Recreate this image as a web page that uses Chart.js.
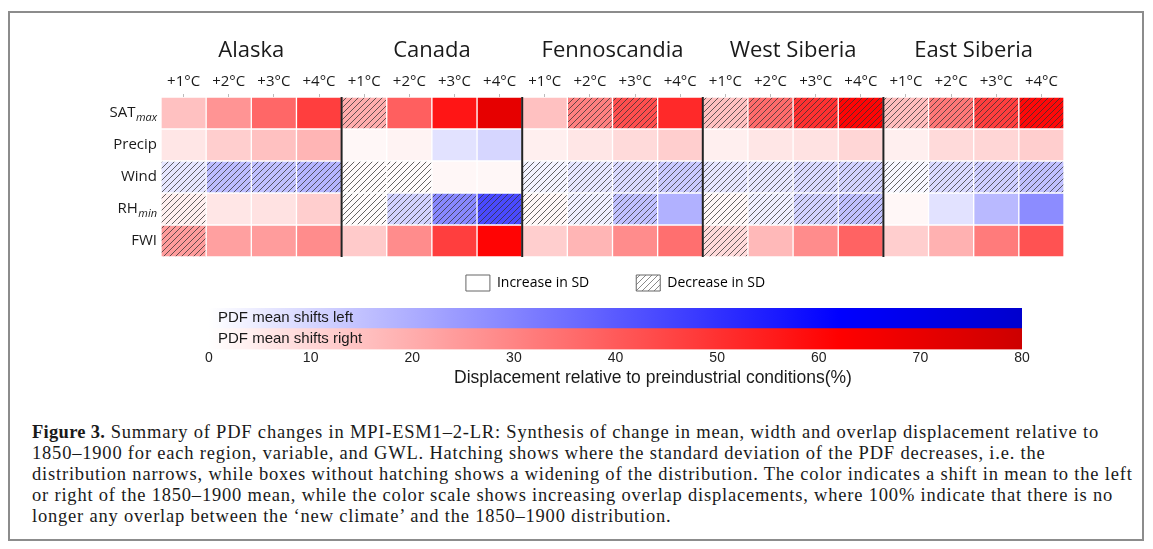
<!DOCTYPE html>
<html>
<head>
<meta charset="utf-8">
<script src="https://cdn.jsdelivr.net/npm/chart.js@4.4.1/dist/chart.umd.min.js"></script>
<style>
  html, body { margin: 0; padding: 0; background: #fff; }
  body { width: 1153px; height: 549px; position: relative; overflow: hidden; }
  #frame { position: absolute; left: 8px; top: 11px; width: 1136px; height: 530px; border: 2px solid #8c8c8c; box-sizing: border-box; }
  #heat { position: absolute; left: 0; top: 0; }
  #cbar { position: absolute; left: 153px; top: 228px; }
  #caption { position: absolute; left: 32px; top: 422px; font-family: 'Liberation Serif', serif; font-size: 18.5px;
             line-height: 21px; color: #1a1a1a; white-space: nowrap; letter-spacing: 0.8px; }
  #caption b { letter-spacing: 0.3px; }
</style>
</head>
<body>
<div id="frame"></div>
<canvas id="heat" width="1153" height="270"></canvas>
<canvas id="cbar" width="1000" height="162"></canvas>
<div id="caption">
  <div><b>Figure 3.</b> Summary of PDF changes in MPI-ESM1–2-LR: Synthesis of change in mean, width and overlap displacement relative to</div>
  <div>1850–1900 for each region, variable, and GWL. Hatching shows where the standard deviation of the PDF decreases, i.e. the</div>
  <div>distribution narrows, while boxes without hatching shows a widening of the distribution. The color indicates a shift in mean to the left</div>
  <div>or right of the 1850–1900 mean, while the color scale shows increasing overlap displacements, where 100% indicate that there is no</div>
  <div>longer any overlap between the ‘new climate’ and the 1850–1900 distribution.</div>
</div>
<script>
// regions, warming levels and variables
const regions = ['Alaska', 'Canada', 'Fennoscandia', 'West Siberia', 'East Siberia'];
const gwls = ['+1°C', '+2°C', '+3°C', '+4°C'];
const variables = ['SAT', 'Precip', 'Wind', 'RH', 'FWI'];
const varSubs = ['max', '', '', 'min', ''];

// overlap displacement in %, + = mean shifts right (red), - = shifts left (blue)
// each row: Alaska +1..+4, Canada, Fennoscandia, West Siberia, East Siberia
const satMax = [15, 26, 37, 47,  20, 39, 57, 71,  15, 31, 43, 52,  15, 36, 50, 61,  16, 33, 47, 60];
const precip = [6, 12, 15, 18,  2, 3, -7, -10,  4, 6, 9, 12,  4, 6, 7, 10,  4, 9, 10, 12];
const wind   = [-6, -16, -15, -18,  1, 1, 2, 2,  -3, -6, -9, -13,  -6, -6, -9, -11,  -2, -9, -12, -15];
const rhMin  = [4, 6, 7, 12,  1, -11, -29, -44,  2, -4, -15, -19,  2, -4, -11, -15,  2, -7, -17, -28];
const fwi    = [24, 23, 24, 28,  13, 28, 47, 61,  12, 18, 28, 35,  9, 17, 28, 38,  12, 19, 32, 42];

// 1 = standard deviation decreases (hatched cell)
const satHatch    = [0, 0, 0, 0,  1, 0, 0, 0,  0, 1, 1, 0,  1, 1, 1, 1,  1, 1, 1, 1];
const precipHatch = [0, 0, 0, 0,  0, 0, 0, 0,  0, 0, 0, 0,  0, 0, 0, 0,  0, 0, 0, 0];
const windHatch   = [1, 1, 1, 1,  1, 1, 0, 0,  1, 1, 1, 1,  1, 1, 1, 1,  1, 1, 1, 1];
const rhHatch     = [1, 0, 0, 0,  1, 1, 1, 1,  1, 1, 1, 0,  1, 1, 1, 1,  0, 0, 0, 0];
const fwiHatch    = [1, 0, 0, 0,  0, 0, 0, 0,  0, 0, 0, 0,  1, 0, 0, 0,  0, 0, 0, 0];

// colour bar
const cbarLabels = ['PDF mean shifts left', 'PDF mean shifts right'];
const cbarMax = 80;
const cbarStep = 10;
const sdLegend = ['Increase in SD', 'Decrease in SD'];

const rows = [satMax, precip, wind, rhMin, fwi];
const hatches = [satHatch, precipHatch, windHatch, rhHatch, fwiHatch];
const columns = regions.flatMap(() => gwls);

// white -> red / blue -> darker at the end of the scale
function cmap(v) {
  const a = Math.min(Math.abs(v), cbarMax);
  let hi, lo;
  if (a <= 62) {
    hi = 255;
    lo = Math.round(255 * (1 - a / 62));
  } else {
    hi = Math.round(255 - 50 * (a - 62) / 18);
    lo = 0;
  }
  return v >= 0 ? `rgb(${hi},${lo},${lo})` : `rgb(${lo},${lo},${hi})`;
}

function hatch(base, line) {
  const c = document.createElement('canvas');
  c.width = 6; c.height = 6;
  const g = c.getContext('2d');
  g.fillStyle = base;
  g.fillRect(0, 0, 6, 6);
  g.strokeStyle = line;
  g.lineWidth = 1;
  g.beginPath();
  g.moveTo(0, 6); g.lineTo(6, 0);
  g.moveTo(-1, 1); g.lineTo(1, -1);
  g.moveTo(5, 7); g.lineTo(7, 5);
  g.stroke();
  return g.createPattern(c, 'repeat');
}

Chart.defaults.font.family = '"Open Sans", sans-serif';
Chart.defaults.color = '#1a1a1a';

// row labels with subscripts
const rowLabels = {
  id: 'rowLabels',
  afterDraw(chart) {
    const { ctx, chartArea, scales: { y } } = chart;
    ctx.save();
    ctx.fillStyle = '#1a1a1a';
    ctx.textBaseline = 'middle';
    ctx.textAlign = 'right';
    variables.forEach((name, r) => {
      const yc = y.getPixelForValue(r + 0.5);
      let x = chartArea.left - 4;
      if (varSubs[r]) {
        ctx.font = 'italic 11px "Open Sans"';
        ctx.fillText(varSubs[r], x, yc + 5);
        x -= ctx.measureText(varSubs[r]).width + 0.5;
      }
      ctx.font = '15px "Open Sans"';
      ctx.fillText(name, x, yc);
    });
    ctx.restore();
  }
};

// black lines between regions
const regionLines = {
  id: 'regionLines',
  afterDatasetsDraw(chart) {
    const { ctx, chartArea, scales: { x } } = chart;
    ctx.save();
    ctx.strokeStyle = '#222';
    ctx.lineWidth = 2;
    for (let k = 1; k < regions.length; k++) {
      const i = k * gwls.length;
      const px = (x.getPixelForValue(i - 1) + x.getPixelForValue(i)) / 2;
      ctx.beginPath();
      ctx.moveTo(px, chartArea.top);
      ctx.lineTo(px, chartArea.bottom);
      ctx.stroke();
    }
    ctx.restore();
  }
};

new Chart(document.getElementById('heat'), {
  type: 'bar',
  data: {
    labels: columns,
    datasets: variables.map((name, r) => ({
      label: name,
      data: columns.map(() => 1),
      backgroundColor: rows[r].map((v, i) => hatches[r][i] ? hatch(cmap(v), 'rgba(50,50,50,0.75)') : cmap(v)),
      borderColor: '#fff',
      borderWidth: 1,
      borderSkipped: false,
      barPercentage: 1,
      categoryPercentage: 1
    }))
  },
  options: {
    responsive: false,
    animation: false,
    events: [],
    layout: { padding: { left: 161, right: 89, top: 30, bottom: 13 } },
    scales: {
      x: {
        position: 'top',
        stacked: true,
        grid: { drawOnChartArea: false, offset: false, tickLength: 3, color: '#bbb' },
        border: { display: false },
        ticks: { font: { size: 15 }, padding: 3, maxRotation: 0, autoSkip: false },
        afterFit: s => { s.height = 28; }
      },
      x2: {
        type: 'category',
        labels: regions,
        position: 'top',
        offset: true,
        grid: { display: false, drawTicks: false },
        border: { display: false },
        ticks: { font: { size: 22 }, padding: 5 },
        afterFit: s => { s.height = 39; }
      },
      y: { type: 'linear', min: 0, max: variables.length, reverse: true, stacked: true, display: false }
    },
    plugins: { legend: { display: false }, tooltip: { enabled: false } }
  },
  plugins: [rowLabels, regionLines]
});

// spacer axes: keep the colour bar where it is while the legend and
// the label are centred as in the figure
const spacer = size => ({
  type: 'linear',
  grid: { display: false, drawTicks: false },
  border: { display: false },
  ticks: { display: false },
  afterFit: s => { if (s.isHorizontal()) s.height = size; else s.width = size; }
});

new Chart(document.getElementById('cbar'), {
  type: 'bar',
  data: {
    labels: cbarLabels,
    datasets: [{
      data: cbarLabels.map(() => cbarMax),
      backgroundColor: c => {
        const x = c.chart.scales.x;
        if (!c.chart.chartArea || !x) return '#fff';
        const g = c.chart.ctx.createLinearGradient(x.getPixelForValue(0), 0, x.getPixelForValue(cbarMax), 0);
        const sign = c.dataIndex === 0 ? -1 : 1;
        for (let v = 0; v <= cbarMax; v += 2) g.addColorStop(v / cbarMax, cmap(sign * v));
        return g;
      },
      borderWidth: 0,
      barPercentage: 1,
      categoryPercentage: 1
    }]
  },
  options: {
    indexAxis: 'y',
    responsive: false,
    animation: false,
    events: [],
    layout: { padding: { left: 0, right: 0, top: 0, bottom: 1.6 } },
    scales: {
      x: {
        min: 0, max: cbarMax,
        ticks: { stepSize: cbarStep, padding: 0, font: { family: '"Liberation Sans"', size: 14 }, color: '#222' },
        grid: { display: false, drawTicks: false },
        border: { display: false },
        afterFit: s => { s.height = 18; }
      },
      y: {
        ticks: { mirror: true, padding: 9, z: 1, autoSkip: false, font: { family: '"Liberation Sans"', size: 15 }, color: '#1a1a1a' },
        grid: { display: false, drawTicks: false },
        border: { display: false },
        afterFit: s => { s.width = 56; }
      },
      gapTop: { ...spacer(7), position: 'top' },
      gapRight: { ...spacer(131), position: 'right' }
    },
    plugins: {
      tooltip: { enabled: false },
      legend: {
        position: 'top',
        fullSize: false,
        onClick: null,
        labels: {
          boxWidth: 24, boxHeight: 16, padding: 47,
          font: { size: 14 }, color: '#1a1a1a',
          generateLabels: () => sdLegend.map((text, i) => ({
            text,
            fillStyle: i ? hatch('#fff', '#8a8a8a') : '#fff',
            strokeStyle: '#666',
            lineWidth: 1,
            hidden: false
          }))
        }
      },
      title: {
        display: true,
        position: 'bottom',
        text: 'Displacement relative to preindustrial conditions(%)',
        font: { family: '"Liberation Sans"', size: 17.5, weight: 'normal' },
        color: '#1a1a1a',
        padding: 0
      }
    }
  }
});
</script>
</body>
</html>
